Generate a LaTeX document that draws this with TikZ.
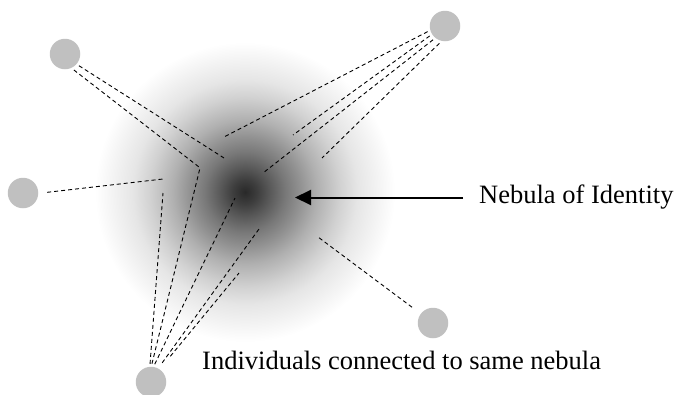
\documentclass[tikz,border=0pt]{standalone}
\usepackage{fontspec}
\setmainfont{Liberation Serif}
\usetikzlibrary{arrows.meta}
\definecolor{persongray}{RGB}{192,192,192}
\pgfdeclareradialshading{nebula}{\pgfpoint{0bp}{0bp}}{%
  color(0bp)=(black!84); color(2bp)=(black!76); color(4.17bp)=(black!65);
  color(6.67bp)=(black!53); color(9.17bp)=(black!43); color(12bp)=(black!31);
  color(15.8bp)=(black!18); color(18.7bp)=(black!10); color(22.5bp)=(black!4);
  color(25bp)=(white); color(50bp)=(white)}
\begin{document}
\begin{tikzpicture}[x=1pt,y=-1pt,
  person/.style={circle, fill=persongray, minimum size=30.5pt, inner sep=0pt, outer sep=3pt},
  link/.style={draw=black, line width=0.9pt, dash pattern=on 4pt off 3pt},
  label/.style={inner sep=0pt, font=\fontsize{26.5pt}{31pt}\selectfont},
  pointer/.style={draw=black, line width=2pt, -{Triangle[length=16pt,width=15pt]}}]
\useasboundingbox (0,0) rectangle (677,394);
% nebula
\coordinate (neb) at (245,192);
\shade[shading=nebula] (neb) circle (150pt);
% individuals
\node[person] (tl) at (65,54) {};
\node[person] (lf) at (23,193) {};
\node[person] (tr) at (445,26) {};
\node[person] (br) at (433,323) {};
\node[person] (bt) at (151,382) {};
% free ends inside the nebula
\coordinate (e1) at (224,158);
\coordinate (e2) at (199,167);
\coordinate (e3) at (163,179);
\coordinate (f1) at (163,193);
\coordinate (f2) at (200,168);
\coordinate (f3) at (235,198);
\coordinate (f4) at (259,229);
\coordinate (f5) at (239,273);
\coordinate (g1) at (224,137);
\coordinate (g2) at (293,135);
\coordinate (g3) at (263,173);
\coordinate (g4) at (322,158);
\coordinate (h1) at (318,237);
% connections
\draw[link] (tl.-40) -- (e1);
\draw[link] (tl.-61) -- (e2);
\draw[link, shorten <=6pt] (lf.0) -- (e3);
\draw[link] (bt.93) -- (f1);
\draw[link] (bt.87) -- (f2);
\draw[link] (bt.78) -- (f3);
\draw[link, shorten <=4pt] (bt.61) -- (f4);
\draw[link, shorten <=14pt] (bt.55) -- (f5);
\draw[link] (tr.198) -- (g1);
\draw[link] (tr.213) -- (g2);
\draw[link] (tr.229) -- (g3);
\draw[link] (tr.252) -- (g4);
\draw[link, shorten <=8pt] (br.143) -- (h1);
% labels
\node[label, anchor=west] (nebtext) at (479,197.5) {Nebula of Identity};
\node[label, anchor=base west] (indtext) at (202,369) {Individuals connected to same nebula};
\coordinate (tip) at (295,196);
\draw[pointer] ([xshift=-16pt]nebtext.west) -- (tip |- nebtext.west);
\end{tikzpicture}
\end{document}
